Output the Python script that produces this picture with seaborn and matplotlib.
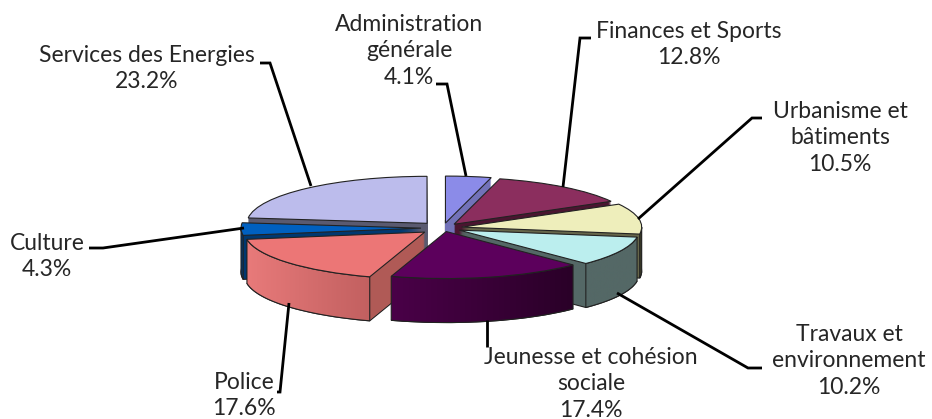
import numpy as np
import seaborn as sns
import matplotlib
matplotlib.use("Agg")
import matplotlib.pyplot as plt
from matplotlib.patches import Polygon

categories = ["Administration\ngénérale", "Finances et Sports", "Urbanisme et\nbâtiments",
              "Travaux et\nenvironnement", "Jeunesse et cohésion\nsociale", "Police", "Culture",
              "Services des Energies"]
values = [4.1, 12.8, 10.5, 10.2, 17.4, 17.6, 4.3, 23.2]
top_colors = ["#8B8BE8", "#8B2E5E", "#EEEEBB", "#BBEEEE", "#5C005C", "#EC7676", "#0060C0", "#BCBCEC"]
side_colors = ["#7272B8", "#4A1530", "#66664A", "#546866", "#3A0038", "#B05A56", "#003870", "#5A5A70"]
wall_colors = {3: ("#546866", "#546866"), 4: ("#4A0048", "#2A0028"),
               5: ("#E87A7A", "#C26060"), 6: ("#003870", "#003870"),
               2: ("#3E3E2A", "#3E3E2A")}
explode = [19, 18, 19, 18, 14, 24, 22, 24]

# label position (x, first baseline y), leader line in pixels
label_pos = [(409, 31), (689, 38), (840, 118), (849, 341), (591, 364), (244, 389), (47, 250), (147, 62)]
leaders = [[(436, 84), (447, 84), (466, 176)],
           [(591, 38), (580, 38), (563, 187)],
           [(762, 118), (752, 118), (638, 219)],
           [(762, 368), (748, 368), (617, 293)],
           [(487, 320), (487, 347)],
           [(277, 392), (280, 392), (289, 303)],
           [(89, 248), (103, 248), (244, 228)],
           [(260, 63), (270, 63), (311, 186)]]

W, H = 932, 419
RX, RY, DEPTH = 180, 47, 44
CX, CY = 443, 228
sy = RX / RY  # squash of the pie plane

sns.set_theme(style="white")
plt.rcParams["font.family"] = ["Lato", "DejaVu Sans"]

fig = plt.figure(figsize=(W / 100, H / 100), dpi=100)
ax = fig.add_axes([0, 0, 1, 1])


def draw_layer(drop, colors, **kw):
    wedges, _ = ax.pie(values, colors=colors, explode=explode, startangle=90, counterclock=False,
                       radius=RX, center=(CX, (H - CY - drop) * sy), **kw)
    return wedges


# extruded sides, bottom to top
draw_layer(DEPTH, side_colors, wedgeprops=dict(edgecolor="#222222", linewidth=0.8, zorder=1))
for d in range(DEPTH - 1, 0, -1):
    draw_layer(d, side_colors, wedgeprops=dict(linewidth=0, zorder=1))

top = draw_layer(0, top_colors, wedgeprops=dict(edgecolor="#222222", linewidth=0.8, zorder=4))

# outer walls on the front half, with their horizontal shading
for i, (c0, c1) in wall_colors.items():
    w = top[i]
    start = w.theta1 % 360
    t1 = max(start, 180)
    t2 = min(start + (w.theta2 - w.theta1), 360)
    t = np.radians(np.linspace(t1, t2, 60))
    x = w.center[0] + RX * np.cos(t)
    y = w.center[1] + RX * np.sin(t)
    verts = np.r_[np.c_[x, y], np.c_[x, y - DEPTH * sy][::-1]]
    poly = Polygon(verts, closed=True, facecolor="none", edgecolor="#222222", linewidth=0.8, zorder=3)
    ax.add_patch(poly)
    cmap = sns.blend_palette([c0, c1], as_cmap=True)
    im = ax.imshow(np.linspace(0, 1, 128)[None, :], cmap=cmap, aspect="auto", zorder=2,
                   extent=(x.min(), x.max(), verts[:, 1].min(), verts[:, 1].max()))
    im.set_clip_path(poly)

ax.set_aspect("auto")
ax.set_xlim(0, W)
ax.set_ylim(0, H * sy)
ax.set_axis_off()

# overlay in pixel coordinates for labels and leader lines
ov = fig.add_axes([0, 0, 1, 1], facecolor="none")
ov.set_xlim(0, W)
ov.set_ylim(H, 0)
ov.set_axis_off()

for name, val, (tx, ty), pts in zip(categories, values, label_pos, leaders):
    xs, ys = zip(*pts)
    ov.plot(xs, ys, color="black", lw=2.0, solid_joinstyle="miter", solid_capstyle="butt")
    lines = name.split("\n") + [f"{val}%"]
    for k, line in enumerate(lines):
        ov.text(tx, ty + k * 26.3, line, ha="center", va="baseline", fontsize=16.5, color="#262626")

fig.savefig("out.png", dpi=100)
